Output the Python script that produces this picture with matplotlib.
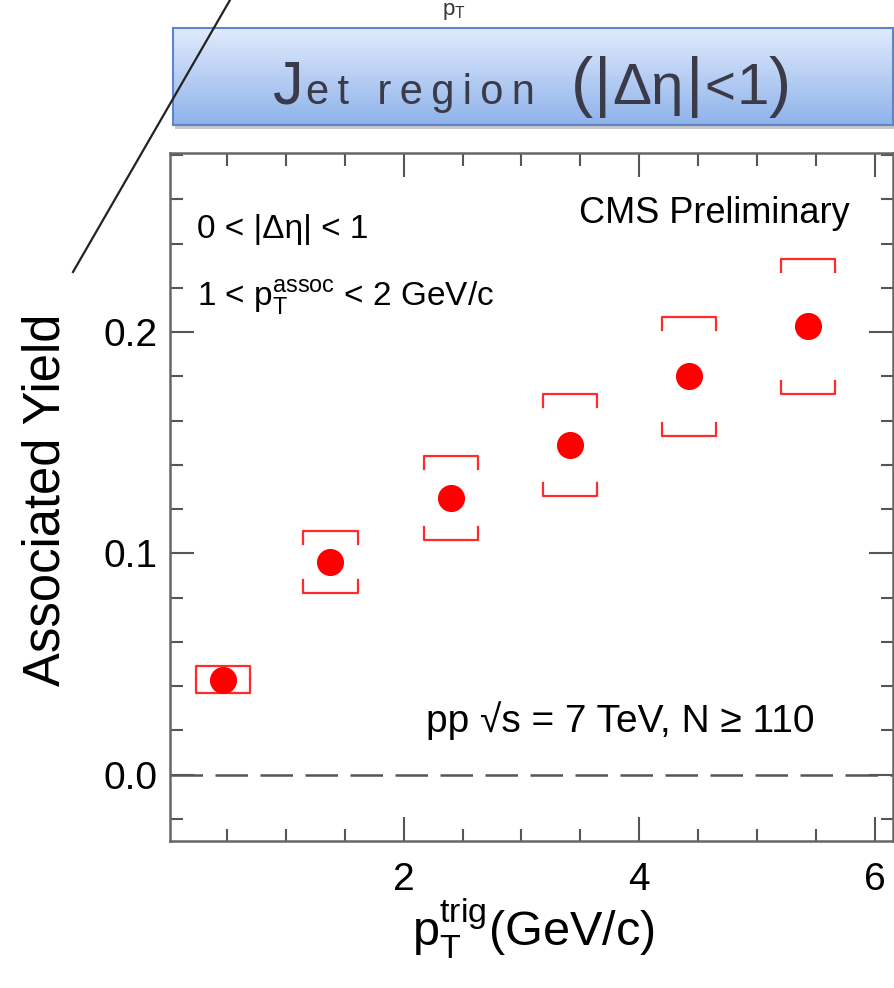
import numpy as np
import matplotlib
matplotlib.use('Agg')
from matplotlib import pyplot as plt
from matplotlib.ticker import MultipleLocator, FormatStrFormatter
from matplotlib.lines import Line2D

plt.rcParams['font.family'] = ['Liberation Sans', 'DejaVu Sans']
plt.rcParams['mathtext.fontset'] = 'custom'
plt.rcParams['mathtext.rm'] = 'Liberation Sans'
plt.rcParams['mathtext.it'] = 'Liberation Sans:italic'

# data
pt_trig = [0.47, 1.38, 2.40, 3.41, 4.42, 5.43]
yield_val = [0.043, 0.096, 0.125, 0.149, 0.180, 0.203]
syst_lo = [0.037, 0.082, 0.106, 0.126, 0.153, 0.172]
syst_hi = [0.049, 0.110, 0.144, 0.172, 0.207, 0.233]
box_half = 0.23

W, H = 895, 988
fig = plt.figure(figsize=(W / 100, H / 100), dpi=100)

ax = fig.add_axes([170 / W, 1 - 841 / H, (893 - 170) / W, (841 - 153) / H])
ax.set_xlim(0.02, 6.15)
ax.set_ylim(-0.03, 0.281)

# dashed zero line
ax.axhline(0, color='#555555', lw=1.8, dashes=(13, 5), zorder=1)

# systematic brackets
red = '#ff2a2a'
tick = 0.0058
for x, lo, hi in zip(pt_trig, syst_lo, syst_hi):
    ax.plot([x - box_half, x - box_half, x + box_half, x + box_half],
            [hi - tick, hi, hi, hi - tick], color=red, lw=1.6, zorder=2)
    ax.plot([x - box_half, x - box_half, x + box_half, x + box_half],
            [lo + tick, lo, lo, lo + tick], color=red, lw=1.6, zorder=2)

ax.plot(pt_trig, yield_val, 'o', color='red', ms=18.5, mec='red', zorder=3)

# axes styling
for s in ax.spines.values():
    s.set_color('#666666')
    s.set_linewidth(1.8)
ax.set_xticks([2, 4, 6])
ax.xaxis.set_minor_locator(MultipleLocator(0.5))
ax.yaxis.set_major_locator(MultipleLocator(0.1))
ax.yaxis.set_minor_locator(MultipleLocator(0.02))
ax.yaxis.set_major_formatter(FormatStrFormatter('%.1f'))
ax.tick_params(which='both', direction='in', top=True, right=True,
               color='#555555', width=1.5, labelsize=28)
ax.tick_params(which='major', length=17)
ax.tick_params(which='minor', length=9)
ax.tick_params(axis='x', pad=15)
ax.tick_params(axis='y', pad=9)

ax.set_ylabel('Associated Yield', fontsize=36.5)
ax.yaxis.set_label_coords(-0.137, 0.496)
ax.set_xlabel(r'$\mathrm{p}_{\mathrm{T}}^{\mathrm{trig}}$(GeV/c)', fontsize=35)
ax.xaxis.set_label_coords(0.502, -0.08)

ax.text(27 / 723, 1 - (229 - 153) / 688, '0 < |Δη| < 1', transform=ax.transAxes,
        fontsize=24, va='center', ha='left')
ax.text(27 / 723, 1 - (297 - 153) / 688,
        r'1 < $\mathrm{p}_{\mathrm{T}}^{\mathrm{assoc}}$ < 2 GeV/c',
        transform=ax.transAxes, fontsize=24, va='center', ha='left')
ax.text((850 - 170) / 723, 1 - (213 - 153) / 688, 'CMS Preliminary',
        transform=ax.transAxes, fontsize=26, va='center', ha='right')
ax.text((815 - 170) / 723, (841 - 721) / 688, 'pp √s = 7 TeV, N ≥ 110',
        transform=ax.transAxes, fontsize=28, va='center', ha='right')

# banner on top
bx0, bx1, by0, by1 = 173, 893, 28, 125
shadow = fig.add_axes([(bx0 + 2) / W, 1 - (by1 + 4) / H, (bx1 - bx0) / W, (by1 - by0) / H])
shadow.set_facecolor('#c8c8c8')
shadow.set_xticks([])
shadow.set_yticks([])
for s in shadow.spines.values():
    s.set_visible(False)
ban = fig.add_axes([bx0 / W, 1 - by1 / H, (bx1 - bx0) / W, (by1 - by0) / H])
grad = np.linspace(0, 1, 100).reshape(-1, 1)
top_c = np.array([0.88, 0.92, 0.99])
bot_c = np.array([0.56, 0.70, 0.92])
img = top_c[None, None, :] * (1 - grad[..., None]) + bot_c[None, None, :] * grad[..., None]
ban.imshow(img, aspect='auto', extent=[0, 1, 0, 1])
ban.set_xticks([])
ban.set_yticks([])
for s in ban.spines.values():
    s.set_color('#5b86c9')
    s.set_linewidth(1.5)

txt_c = '#3a3a48'
def bx(px):
    return (px - bx0) / (bx1 - bx0)
base = (by1 - 104) / (by1 - by0)
# pieces of the banner title: (text, left x in px, font size)
title_parts = [('J', 273, 44), ('\u2009'.join('et region'), 306, 30),
               ('(', 571, 48), ('|', 594, 48), ('Δη', 612, 42), ('|', 686, 48),
               ('<', 704, 38), ('1', 737, 42), (')', 769, 48)]
for s, px, fs in title_parts:
    ban.text(bx(px), base, s, fontsize=fs, color=txt_c, va='baseline', ha='left')

# clipped label sticking out at the top
fig.text(442 / W, 1 - 22 / H, r'$\mathrm{p}_{\mathrm{T}}$', fontsize=16,
         color='#333333', va='bottom')

# pointer line
fig.add_artist(Line2D([73 / W, 230 / W], [1 - 272 / H, 1.0], color='#222222', lw=1.6))

fig.savefig('out.png', dpi=100)
